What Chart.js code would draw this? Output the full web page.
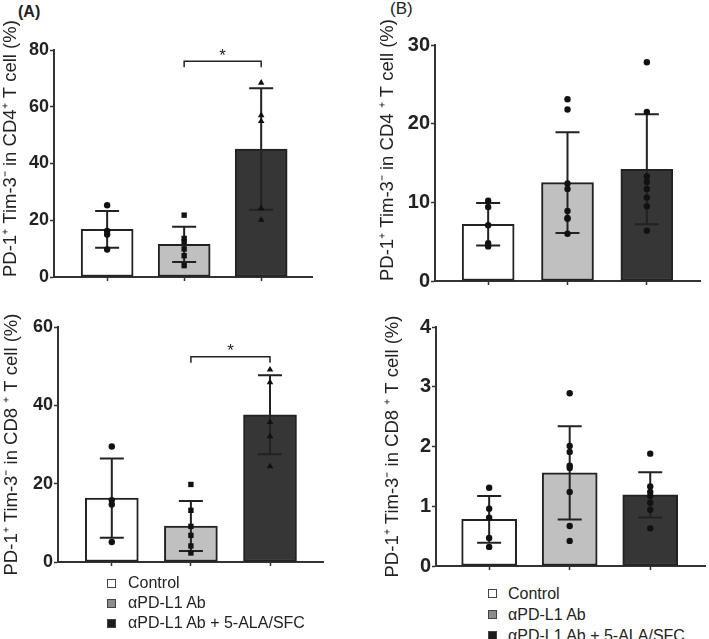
<!DOCTYPE html>
<html lang="en">
<head>
<meta charset="UTF-8">
<title>PD-1+ Tim-3- T cells</title>
<script src="https://cdn.jsdelivr.net/npm/chart.js@4.4.0/dist/chart.umd.min.js"></script>
<style>
    body {
        margin: 0;
        background: #fff;
        font-family: 'Liberation Sans', Arial, sans-serif;
    }
    #wrap {
        position: relative;
        width: 709px;
        height: 639px;
        overflow: hidden;
    }
    .box { position: absolute; }
    .panel-label {
        position: absolute;
        color: #222;
        line-height: 18px;
    }
    .legend {
        position: absolute;
        font-size: 16px;
        color: #222;
    }
    .legend .row {
        display: flex;
        align-items: center;
        white-space: nowrap;
    }
    .legend .sw {
        display: inline-block;
        width: 9px;
        height: 9px;
        box-sizing: border-box;
        border: 1px solid #444;
    }
</style>
</head>
<body>
<div id="wrap">
    <div class="panel-label" style="left:18px; top:3px; font-size:16px; font-weight:bold;">(A)</div>
    <div class="panel-label" style="left:390px; top:0px; font-size:17px;">(B)</div>

    <div class="box" style="left:0; top:0;"><canvas id="cd4A" width="340" height="300"></canvas></div>
    <div class="box" style="left:0; top:300px;"><canvas id="cd8A" width="340" height="280"></canvas></div>
    <div class="box" style="left:360px; top:0;"><canvas id="cd4B" width="349" height="300"></canvas></div>
    <div class="box" style="left:360px; top:300px;"><canvas id="cd8B" width="349" height="280"></canvas></div>

    <div class="legend" id="legendA" style="left:107px; top:573px;"></div>
    <div class="legend" id="legendB" style="left:488px; top:583px;"></div>
</div>

<script>
    // groups (x categories)
    const groups = ['Control', 'αPD-L1 Ab', 'αPD-L1 Ab + 5-ALA/SFC'];

    // (A) CD4
    const cd4MeanA = [16.8, 11.5, 45.1];
    const cd4SdA = [6.5, 6.2, 21.4];
    const cd4PtsA = [
        [25.3, 16.2, 15.0, 9.7],
        [21.8, 13.6, 12.4, 9.9, 7.5, 4.0],
        [68.4, 57.0, 54.9, 24.2, 20.1]
    ];
    // (A) CD8
    const cd8MeanA = [16.3, 9.2, 37.6];
    const cd8SdA = [10.1, 6.4, 10.1];
    const cd8PtsA = [
        [29.5, 15.8, 14.7, 5.1],
        [19.8, 13.2, 9.1, 6.8, 4.1, 2.3],
        [49.1, 45.9, 35.7, 32.1, 24.4]
    ];
    // (B) CD4
    const cd4MeanB = [7.2, 12.5, 14.2];
    const cd4SdB = [2.7, 6.4, 7.0];
    const cd4PtsB = [
        [10.2, 9.4, 7.1, 4.8, 4.4],
        [23.1, 21.8, 12.4, 11.7, 8.9, 8.0, 7.9, 6.0],
        [27.8, 21.5, 13.3, 12.6, 11.7, 10.6, 9.5, 6.4]
    ];
    // (B) CD8
    const cd8MeanB = [0.78, 1.56, 1.19];
    const cd8SdB = [0.39, 0.78, 0.38];
    const cd8PtsB = [
        [1.31, 0.96, 0.81, 0.47, 0.32],
        [2.89, 2.01, 1.91, 1.68, 1.64, 1.24, 0.67, 0.42],
        [1.88, 1.33, 1.24, 1.17, 1.06, 0.94, 0.63]
    ];

    // y axis ticks
    const cd4TicksA = [0, 20, 40, 60, 80];
    const cd8TicksA = [0, 20, 40, 60];
    const cd4TicksB = [0, 10, 20, 30];
    const cd8TicksB = [0, 1, 2, 3, 4];

    // significance brackets (value units)
    const sigCd4A = { from: 1, to: 2, y: 76, label: '*' };
    const sigCd8A = { from: 1, to: 2, y: 52.4, label: '*' };

    const barColors = ['#ffffff', '#c0c0c0', '#363636'];
    const legendColors = ['#ffffff', '#8c8c8c', '#1c1c1c'];
    const FONT = "'Liberation Sans', Arial, sans-serif";

    // error bars under the dots, brackets on top
    const errorBars = {
        id: 'errorBars',
        afterDatasetDraw(chart, args, opts) {
            if (args.index !== 0) return;
            const { ctx, scales: { x, y } } = chart;
            ctx.save();
            ctx.strokeStyle = '#222';
            ctx.lineWidth = 2;
            opts.means.forEach((m, i) => {
                const cx = x.getPixelForValue(i);
                const hi = y.getPixelForValue(m + opts.sds[i]);
                const lo = y.getPixelForValue(m - opts.sds[i]);
                ctx.beginPath();
                ctx.moveTo(cx, hi); ctx.lineTo(cx, lo);
                ctx.moveTo(cx - opts.cap, hi); ctx.lineTo(cx + opts.cap, hi);
                ctx.moveTo(cx - opts.cap, lo); ctx.lineTo(cx + opts.cap, lo);
                ctx.stroke();
            });
            ctx.restore();
        },
        afterDatasetsDraw(chart, args, opts) {
            const sig = opts.sig;
            if (!sig) return;
            const { ctx, scales: { x, y } } = chart;
            const x1 = x.getPixelForValue(sig.from);
            const x2 = x.getPixelForValue(sig.to);
            const yy = y.getPixelForValue(sig.y);
            ctx.save();
            ctx.strokeStyle = '#222';
            ctx.lineWidth = 1.5;
            ctx.beginPath();
            ctx.moveTo(x1, yy + 6); ctx.lineTo(x1, yy); ctx.lineTo(x2, yy); ctx.lineTo(x2, yy + 6);
            ctx.stroke();
            ctx.fillStyle = '#222';
            ctx.font = '17px ' + FONT;
            ctx.textAlign = 'center';
            ctx.textBaseline = 'bottom';
            ctx.fillText(sig.label, (x1 + x2) / 2, yy + 3);
            ctx.restore();
        }
    };

    function makePanel(id, p) {
        const datasets = [{
            type: 'bar',
            data: p.means.map((m, i) => ({ x: i, y: m })),
            backgroundColor: barColors,
            borderColor: '#222',
            borderWidth: 2,
            borderSkipped: false,
            barThickness: p.barWidth,
            order: 2
        }];
        p.points.forEach((pts, i) => {
            datasets.push({
                type: 'scatter',
                data: pts.map(v => ({ x: i, y: v })),
                pointStyle: p.styles[i],
                pointRadius: p.styles[i] === 'circle' ? 3.2 : 3.8,
                backgroundColor: '#111',
                borderColor: '#111',
                borderWidth: 0,
                order: 1
            });
        });

        new Chart(document.getElementById(id), {
            data: { datasets },
            plugins: [errorBars],
            options: {
                responsive: false,
                animation: false,
                layout: { padding: p.pad },
                plugins: {
                    legend: { display: false },
                    tooltip: { enabled: false },
                    errorBars: { means: p.means, sds: p.sds, cap: p.cap, sig: p.sig }
                },
                scales: {
                    x: {
                        type: 'linear',
                        min: p.xRange[0],
                        max: p.xRange[1],
                        offset: false,
                        ticks: { display: false },
                        grid: { offset: false, drawOnChartArea: false, drawTicks: true, tickLength: 4, tickColor: '#333', tickWidth: 1.5 },
                        border: { color: '#333', width: 2 },
                        afterBuildTicks: s => { s.ticks = groups.map((g, i) => ({ value: i })); },
                        afterFit: s => { s.height = 6; }
                    },
                    y: {
                        min: 0,
                        max: p.ticks[p.ticks.length - 1],
                        ticks: {
                            color: '#222',
                            padding: 1,
                            font: { family: FONT, size: p.tickSize, weight: 'bold' }
                        },
                        afterBuildTicks: s => { s.ticks = p.ticks.map(v => ({ value: v })); },
                        grid: { drawOnChartArea: false, drawTicks: true, tickLength: 4, tickColor: '#333', tickWidth: 1.5 },
                        border: { color: '#333', width: 2 },
                        title: {
                            display: true,
                            text: p.title,
                            align: p.titleAlign,
                            color: '#222',
                            font: { family: FONT, size: 18.5 },
                            padding: { top: p.titlePad, bottom: 0 }
                        },
                        afterFit: s => { s.width = p.yWidth; }
                    }
                }
            }
        });
    }

    makePanel('cd4A', {
        means: cd4MeanA, sds: cd4SdA, points: cd4PtsA, ticks: cd4TicksA,
        styles: ['circle', 'rect', 'triangle'], sig: sigCd4A,
        title: 'PD-1⁺ Tim-3⁻ in CD4⁺ T cell (%)', titleAlign: 'start', titlePad: 0,
        yWidth: 54, pad: { left: 0, top: 50, right: 28, bottom: 17 },
        xRange: [-0.69, 2.66], barWidth: 52, cap: 12, tickSize: 18
    });
    makePanel('cd8A', {
        means: cd8MeanA, sds: cd8SdA, points: cd8PtsA, ticks: cd8TicksA,
        styles: ['circle', 'rect', 'triangle'], sig: sigCd8A,
        title: 'PD-1⁺ Tim-3⁻ in CD8 ⁺ T cell (%)', titleAlign: 'center', titlePad: 1,
        yWidth: 58, pad: { left: 0, top: 27, right: 17, bottom: 12 },
        xRange: [-0.68, 2.67], barWidth: 53, cap: 12, tickSize: 18
    });
    makePanel('cd4B', {
        means: cd4MeanB, sds: cd4SdB, points: cd4PtsB, ticks: cd4TicksB,
        styles: ['circle', 'circle', 'circle'], sig: null,
        title: 'PD-1⁺ Tim-3⁻ in CD4 ⁺ T cell (%)', titleAlign: 'start', titlePad: 17,
        yWidth: 75, pad: { left: 0, top: 45, right: 9, bottom: 13 },
        xRange: [-0.67, 2.67], barWidth: 52, cap: 12, tickSize: 20
    });
    makePanel('cd8B', {
        means: cd8MeanB, sds: cd8SdB, points: cd8PtsB, ticks: cd8TicksB,
        styles: ['circle', 'circle', 'circle'], sig: null,
        title: 'PD-1⁺ Tim-3⁻ in CD8 ⁺ T cell (%)', titleAlign: 'center', titlePad: 22,
        yWidth: 76, pad: { left: 0, top: 27, right: 1, bottom: 8 },
        xRange: [-0.66, 2.68], barWidth: 55, cap: 12, tickSize: 20
    });

    // legends
    function buildLegend(id, rowH, gap) {
        const el = document.getElementById(id);
        groups.forEach((g, i) => {
            const row = document.createElement('div');
            row.className = 'row';
            row.style.height = rowH + 'px';
            const sw = document.createElement('span');
            sw.className = 'sw';
            sw.style.background = legendColors[i];
            sw.style.marginRight = gap + 'px';
            const txt = document.createElement('span');
            txt.textContent = g;
            row.appendChild(sw);
            row.appendChild(txt);
            el.appendChild(row);
        });
    }
    buildLegend('legendA', 20, 12);
    buildLegend('legendB', 21, 11);
</script>
</body>
</html>
